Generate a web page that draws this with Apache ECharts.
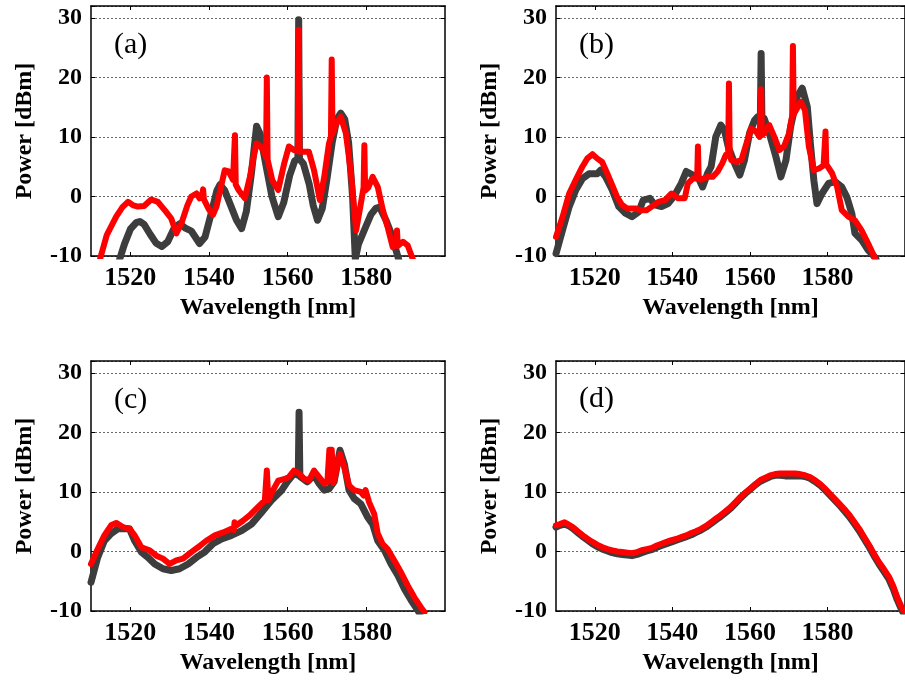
<!DOCTYPE html>
<html>
<head>
<meta charset="utf-8">
<script src="https://cdn.jsdelivr.net/npm/echarts@6/dist/echarts.min.js"></script>
<style>html,body{margin:0;padding:0;background:#fff}#c{width:905px;height:681px}</style>
</head>
<body>
<div id="c"></div>
<script>
// ---- data: [wavelength nm, power dBm] ----
const xTicks = [1520, 1540, 1560, 1580];
const yTicks = [-10, 0, 10, 20, 30];
const panelLabels = ['(a)', '(b)', '(c)', '(d)'];

const aGray = [[1517.3,-10.5],[1518.5,-8],[1520,-5.5],[1521.5,-4.4],[1522.4,-4.2],[1523.5,-4.7],[1525,-6.3],[1526.5,-7.8],[1528,-8.4],[1529.5,-7.6],[1531,-5.5],[1532.5,-4.6],[1534,-5.3],[1535.5,-5.8],[1537.6,-7.9],[1539,-6.8],[1540.5,-3],[1542,1],[1542.8,2],[1544,1],[1545.5,-1.5],[1547,-4],[1548.3,-5.4],[1549.5,-2.5],[1550.8,4],[1552.1,11.8],[1553,10.5],[1554.4,5.5],[1556,0],[1557.6,-3.4],[1559,-1],[1560.5,3.5],[1561.8,6],[1562.6,6.3],[1562.8,29.7],[1563.0,6.3],[1564,5.5],[1565.5,2],[1566.5,-1.5],[1567.6,-4],[1568.8,-2],[1570,3],[1571.3,9],[1572.5,13],[1573.5,14],[1574.5,13],[1575.5,9],[1576.5,0],[1577.2,-10.5],[1578,-8],[1579.9,-5],[1581.2,-3],[1582.4,-2],[1583.4,-1.8],[1585,-4],[1586.3,-6.2],[1587.3,-8.5],[1588.2,-10.5]];
const aRed = [[1512.3,-10.5],[1514,-6.5],[1516.4,-3.4],[1518,-1.8],[1519.4,-0.9],[1520.8,-1.5],[1521.9,-1.7],[1523.5,-1.6],[1525.3,-0.5],[1527,-0.9],[1529.1,-2.6],[1530.4,-3.7],[1531.7,-6.2],[1533,-4.5],[1534.5,-1.5],[1535.5,0],[1536.8,0.5],[1537.6,-0.3],[1538.3,0.5],[1538.5,1.2],[1538.7,-0.5],[1540,-2.2],[1541,-3.1],[1541.9,-1.7],[1543,1.5],[1544,4.4],[1545,4.2],[1546.1,2.8],[1546.5,3],[1546.6,10.3],[1546.8,2],[1547.6,1],[1549.1,-0.3],[1550.4,3.3],[1551.3,6.5],[1552.1,8.9],[1553,8.5],[1553.8,7.8],[1554.5,6.5],[1554.7,20],[1554.9,6.2],[1556.1,2.7],[1557.6,1.1],[1559.1,5.5],[1560.3,8.4],[1561.6,7.8],[1562.6,7.6],[1562.8,28],[1563.0,7.5],[1564,7.5],[1565.4,7.5],[1566.7,4.4],[1568.2,-0.6],[1569.3,3.3],[1570.5,8.9],[1571.0,10],[1571.2,23],[1571.4,10.5],[1572.2,12],[1573.5,13.4],[1574.8,10.6],[1576.1,3.9],[1577.4,-5.7],[1578.6,-1.2],[1579.3,1.5],[1579.5,8.6],[1579.7,1],[1580.5,1.5],[1581.6,3.3],[1582.9,1.6],[1584.2,-2.3],[1585.4,-5.1],[1586.7,-8.5],[1587.6,-8.2],[1587.8,-5.7],[1588.0,-8.3],[1588.4,-8.5],[1589.3,-7.6],[1590.5,-8.2],[1591.8,-10.5]];

const bGray = [[1510,-9.6],[1511.7,-5.6],[1513.4,-1.7],[1515.1,1.1],[1516.8,3.0],[1518.5,3.8],[1520.6,3.8],[1521.5,4.4],[1522.8,3.3],[1524.5,1.1],[1526.2,-1.7],[1527.9,-2.8],[1529.6,-3.4],[1531.3,-2.6],[1532.5,-0.6],[1534.2,-0.3],[1535.5,-1.4],[1537.2,-1.7],[1538.9,-1.2],[1540.6,0.2],[1542.3,2.2],[1543.6,4.2],[1545.3,3.6],[1546.6,3.3],[1547.8,1.6],[1549.1,3.9],[1550,5],[1551.2,10],[1552.5,12],[1553.4,11.2],[1554.4,8.4],[1556.1,5.5],[1557.4,3.6],[1558.6,6.1],[1559.9,10.6],[1561.2,12.8],[1562.0,13.4],[1562.7,13.2],[1562.9,24],[1563.1,13.2],[1563.7,13.1],[1565,10.6],[1566.7,6.7],[1568,3.3],[1569.3,6.1],[1570.5,11.7],[1572.2,16.8],[1573.5,18.2],[1574.8,15.1],[1575.6,8.9],[1576.5,2.7],[1577.3,-1.2],[1578.6,0.5],[1580.3,2.2],[1582,2.5],[1583.7,1.6],[1585,-0.1],[1586.3,-2.9],[1587.1,-6.2],[1588.8,-7.3],[1590.5,-9],[1591.8,-9.9],[1592.5,-10.5]];
const bRed = [[1510,-6.8],[1511.7,-3.4],[1513.4,0.5],[1515.1,2.8],[1516.8,5],[1518.1,6.4],[1519.4,7.1],[1520.6,6.4],[1521.9,5.8],[1523.2,3.9],[1524.5,1.9],[1525.7,0],[1527,-1.4],[1528.3,-2],[1530.4,-2],[1531.7,-2.3],[1533.4,-2.3],[1534.7,-1.7],[1536.4,-0.9],[1538.1,-0.6],[1539.8,0.5],[1541.5,-0.3],[1543.2,-0.3],[1544,2.2],[1545.3,3.0],[1546.4,3.0],[1546.6,8.4],[1546.8,3.0],[1547.4,2.8],[1549.1,3.3],[1550.4,3.3],[1551.7,4.2],[1552.9,5.6],[1553.8,7],[1554.4,7],[1554.6,19],[1554.8,7],[1555.2,6.1],[1556.5,5.8],[1557.8,6.1],[1559.1,8.9],[1560.3,11.4],[1561.6,10.9],[1562.5,10],[1562.7,10],[1562.9,18],[1563.1,10.3],[1563.7,10.6],[1565,12],[1566.3,10],[1567.6,7.8],[1568.8,8.4],[1570.1,10.6],[1570.7,12.8],[1570.9,13.5],[1571.1,25.3],[1571.3,13.8],[1571.8,14],[1573.1,15.9],[1574.2,14.5],[1575.2,8.4],[1576.5,4.4],[1577.8,4.7],[1579.0,5.2],[1579.3,5.4],[1579.5,10.9],[1579.7,5.4],[1579.9,5.5],[1581.2,3.9],[1582.5,1.6],[1583.7,-2.3],[1585.4,-3.4],[1587.1,-4],[1588.8,-5.7],[1590.5,-7.9],[1592.2,-10.3]];

const cGray = [[1510,-5.2],[1511.7,-1],[1513.4,1.8],[1515.1,3],[1516.8,3.8],[1518.5,3.8],[1519.8,3.8],[1521.1,1.8],[1522.8,-0.1],[1524.5,-1],[1526.2,-2.1],[1528.3,-2.9],[1530.4,-3.2],[1532.5,-2.9],[1534.7,-2.1],[1536.8,-1],[1538.9,-0.1],[1541,1.3],[1543.2,2.1],[1545.7,2.7],[1548.3,3.5],[1550.8,4.6],[1553.4,6.6],[1555.9,8.6],[1558.5,10.3],[1559.9,11.7],[1561.6,13.1],[1562.7,12.8],[1562.9,23.4],[1563.1,12.6],[1565,11.7],[1566.7,12.8],[1568,11.4],[1569.3,10.3],[1570.5,10.5],[1571.8,11.7],[1573.3,17],[1574.4,14.7],[1575.6,10.3],[1576.9,8.9],[1578.6,8],[1580.3,5.8],[1581.6,4.6],[1582.9,1.8],[1584.6,0.2],[1586.3,-2.1],[1588,-4],[1589.7,-6.3],[1591.4,-8.2],[1593.1,-9.9],[1593.6,-10.5]];
const cRed = [[1510,-2.1],[1511.7,0.4],[1513.4,2.7],[1515.1,4.4],[1516.4,4.8],[1518.1,4.1],[1519.8,3.8],[1521.1,2.7],[1522.8,0.7],[1524.9,0.2],[1526.6,-0.7],[1528.3,-1.2],[1530,-2.1],[1531.7,-1.5],[1533.4,-1.2],[1535.5,-0.1],[1537.2,0.7],[1539.3,1.8],[1541.5,2.7],[1543.6,3.2],[1545.7,3.8],[1546.3,3.6],[1546.5,4.9],[1547,4.4],[1548.7,5.2],[1550.4,6.1],[1552.5,7.5],[1554.2,8.6],[1554.5,8.6],[1554.7,13.6],[1555.1,8.6],[1556.3,10.3],[1557.6,11.9],[1559.3,12.2],[1560.3,12.5],[1561.6,13.6],[1562.9,13.1],[1564.2,12.2],[1565.4,11.9],[1566.7,13.6],[1568,12.5],[1569.3,11.4],[1570.1,11.7],[1570.6,17.1],[1571.2,17.1],[1571.6,11.5],[1572.2,13.1],[1573.3,16.4],[1574.4,14.2],[1575.6,11.1],[1576.9,10.3],[1578.6,10],[1579.3,9.4],[1579.8,10.3],[1580.7,8.3],[1582,6.3],[1582.9,3],[1584.1,1.3],[1585.4,0.4],[1587.1,-1.5],[1588.8,-3.5],[1590.5,-5.7],[1592.2,-7.7],[1593.9,-9.4],[1594.8,-10.2]];

const dWl = [1510,1511,1512.2,1513.3,1514.3,1515.6,1516.9,1518.2,1519.4,1520.7,1522,1523.3,1524.5,1525.8,1527.1,1528.4,1529.6,1530.9,1532.1,1533.4,1534.7,1536,1537.2,1538.5,1539.8,1541,1542.3,1543.6,1544.9,1546.1,1547.4,1548.7,1550,1551.2,1552.5,1553.8,1555.1,1556.3,1557.6,1558.9,1560.2,1561.4,1562.7,1564,1565.3,1566.5,1567.8,1569.1,1570.4,1571.6,1572.9,1574.2,1575.5,1576.7,1578,1579.3,1580.6,1581.8,1583.1,1584.4,1585.7,1586.9,1588.2,1589.5,1590.8,1592,1593.3,1594.6,1595.9,1597,1598,1599,1600];
const dRedP = [4.4,4.6,4.9,4.5,4.1,3.4,2.7,2.1,1.6,1.1,0.7,0.4,0.2,0.0,-0.1,-0.2,-0.3,-0.1,0.2,0.4,0.6,1.0,1.3,1.6,1.9,2.1,2.4,2.7,3.1,3.4,3.8,4.3,4.9,5.5,6.1,6.8,7.5,8.3,9.2,9.9,10.6,11.3,12.0,12.4,12.8,13.0,13.1,13.1,13.1,13.1,13.0,12.8,12.5,12.0,11.4,10.6,9.7,8.9,8.0,7.1,6.1,5.0,3.8,2.4,1.0,-0.4,-1.8,-3.0,-4.3,-5.9,-7.7,-9.2,-10.4];
const dGrayP = [4.1,4.4,4.6,4.3,3.9,3.2,2.5,1.9,1.3,0.8,0.4,0.1,-0.2,-0.4,-0.5,-0.6,-0.7,-0.5,-0.2,0.1,0.3,0.7,1.0,1.3,1.6,1.9,2.2,2.5,2.8,3.2,3.6,4.1,4.7,5.3,5.9,6.6,7.3,8.1,9.0,9.8,10.5,11.2,11.8,12.2,12.6,12.8,12.8,12.7,12.7,12.7,12.7,12.6,12.3,11.8,11.2,10.4,9.5,8.7,7.8,6.8,5.8,4.7,3.5,2.1,0.7,-0.7,-2.1,-3.4,-4.7,-6.3,-8.1,-9.6,-10.8];

const dGray = dWl.map((w, i) => [w, dGrayP[i]]);
const dRed = dWl.map((w, i) => [w, dRedP[i]]);

// ---- layout / style ----
const FONT = '"Times New Roman", "Liberation Serif", serif';
const layout = [
  {left: 91, top: 6, lx: 114, ly: 47},
  {left: 556, top: 6, lx: 579, ly: 47},
  {left: 91, top: 361, lx: 114, ly: 402},
  {left: 556, top: 361, lx: 579, ly: 401}
];
const seriesData = [[aGray, aRed], [bGray, bRed], [cGray, cRed], [dGray, dRed]];

const grid = [], xAxis = [], yAxis = [], series = [], graphic = [];
const axisLine = {show: true, onZero: false, lineStyle: {color: '#000', width: 1.5}};
layout.forEach((L, i) => {
  grid.push({left: L.left, top: L.top, width: 354, height: 250, containLabel: false});
  xAxis.push({
    type: 'value', gridIndex: i, min: 1510, max: 1600, position: 'bottom',
    axisLine: axisLine,
    axisTick: {show: true, inside: true, length: 4, customValues: xTicks, lineStyle: {color: '#000', width: 1}},
    axisLabel: {customValues: xTicks, color: '#000', fontFamily: FONT, fontWeight: 'bold', fontSize: 26, margin: 9,
      formatter: v => String(v)},
    splitLine: {show: false},
    name: 'Wavelength [nm]', nameLocation: 'middle', nameGap: 40,
    nameTextStyle: {color: '#000', fontFamily: FONT, fontWeight: 'bold', fontSize: 24}
  });
  xAxis.push({
    type: 'value', gridIndex: i, min: 1510, max: 1600, position: 'top',
    axisLine: axisLine,
    axisTick: {show: true, inside: true, length: 4, customValues: xTicks, lineStyle: {color: '#000', width: 1}},
    axisLabel: {show: false}, splitLine: {show: false}
  });
  yAxis.push({
    type: 'value', gridIndex: i, min: -10, max: 32, interval: 10, position: 'left',
    axisLine: axisLine,
    axisTick: {show: true, inside: true, length: 4, lineStyle: {color: '#000', width: 1}},
    axisLabel: {color: '#000', fontFamily: FONT, fontWeight: 'bold', fontSize: 24, margin: 9,
      formatter: v => (yTicks.indexOf(v) >= 0 ? String(v) : '')},
    splitLine: {show: true, lineStyle: {color: '#6a6a6a', width: 1, type: [2, 2]}},
    name: 'Power [dBm]', nameLocation: 'middle', nameGap: 54, nameRotate: 90,
    nameTextStyle: {color: '#000', fontFamily: FONT, fontWeight: 'bold', fontSize: 24}
  });
  yAxis.push({
    type: 'value', gridIndex: i, min: -10, max: 32, interval: 10, position: 'right',
    axisLine: axisLine,
    axisTick: {show: true, inside: true, length: 4, lineStyle: {color: '#000', width: 1}},
    axisLabel: {show: false}, splitLine: {show: false}
  });
  const [g, r] = seriesData[i];
  series.push({
    type: 'line', xAxisIndex: 2 * i, yAxisIndex: 2 * i, data: g, showSymbol: false, symbol: 'none',
    lineStyle: {color: '#3d3d3d', width: 7, join: 'round', cap: 'round'}, z: 2, clip: true
  });
  series.push({
    type: 'line', xAxisIndex: 2 * i, yAxisIndex: 2 * i, data: r, showSymbol: false, symbol: 'none',
    lineStyle: {color: '#ff0000', width: 6, join: 'round', cap: 'round'}, z: 3, clip: true
  });
  graphic.push({
    type: 'text', left: L.lx, top: L.ly - 17,
    style: {text: panelLabels[i], fill: '#000', font: 'normal 30px ' + FONT}
  });
});

const chart = echarts.init(document.getElementById('c'), null, {renderer: 'canvas'});
chart.setOption({animation: false, backgroundColor: '#fff', grid, xAxis, yAxis, series, graphic});
</script>
</body>
</html>
